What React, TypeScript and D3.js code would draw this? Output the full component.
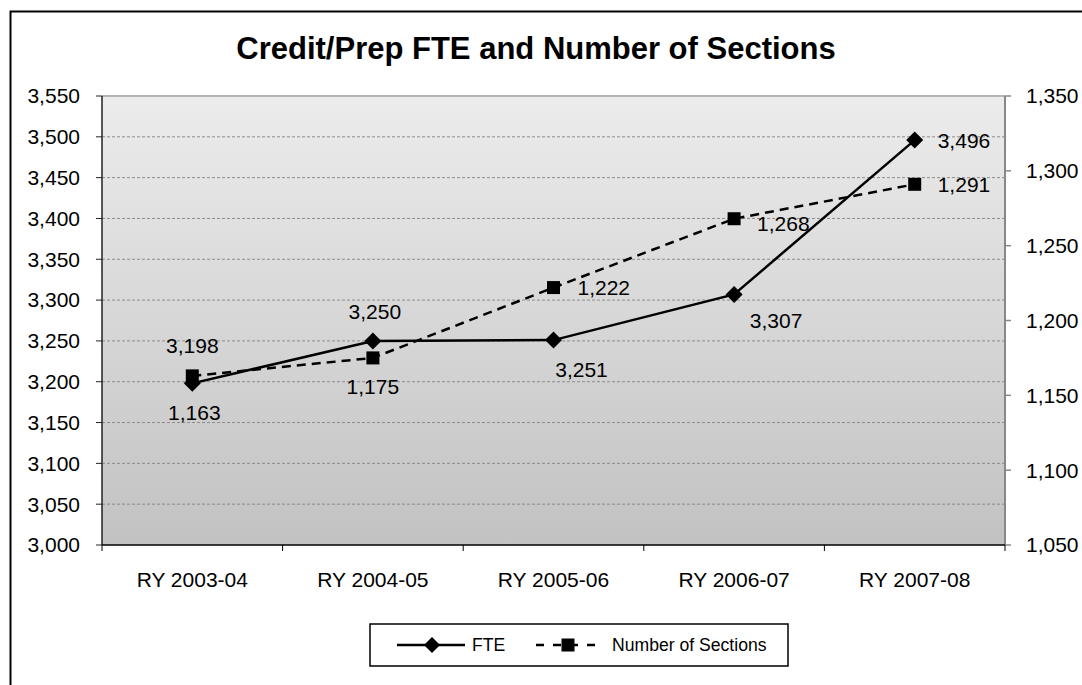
import React from "react";
import * as d3 from "d3";

const categories = ["RY 2003-04", "RY 2004-05", "RY 2005-06", "RY 2006-07", "RY 2007-08"];
const fteValues = [3198, 3250, 3251, 3307, 3496];
const sectionValues = [1163, 1175, 1222, 1268, 1291];
const leftTicks = [3000, 3050, 3100, 3150, 3200, 3250, 3300, 3350, 3400, 3450, 3500, 3550];
const rightTicks = [1050, 1100, 1150, 1200, 1250, 1300, 1350];
const title = "Credit/Prep FTE and Number of Sections";
const seriesNames = ["FTE", "Number of Sections"];

// label placements (style only)
const fteLabelPos = [
  { dx: 0, dy: -30, anchor: "middle" },
  { dx: 2, dy: -22, anchor: "middle" },
  { dx: 28, dy: 37, anchor: "middle" },
  { dx: 42, dy: 34, anchor: "middle" },
  { dx: 23, dy: 8, anchor: "start" },
];
const secLabelPos = [
  { dx: 2, dy: 44, anchor: "middle" },
  { dx: 0, dy: 36, anchor: "middle" },
  { dx: 24, dy: 7, anchor: "start" },
  { dx: 23, dy: 12, anchor: "start" },
  { dx: 23, dy: 8, anchor: "start" },
];

const W = 1082;
const H = 685;
const plotL = 102;
const plotR = 1005;
const plotT = 96;
const plotB = 545;
const font = "'Liberation Sans', Arial, sans-serif";
const fmt = d3.format(",");
const fs = 21;

export default function App() {
  const x = d3.scaleBand<string>().domain(categories).range([plotL, plotR]).padding(0);
  const cx = (c: string) => (x(c) as number) + x.bandwidth() / 2;
  const yL = d3.scaleLinear().domain([3000, 3550]).range([plotB, plotT]);
  const yR = d3.scaleLinear().domain([1050, 1350]).range([plotB, plotT]);

  const fteLine = d3
    .line<number>()
    .x((_, i) => cx(categories[i]))
    .y((d) => yL(d));
  const secLine = d3
    .line<number>()
    .x((_, i) => cx(categories[i]))
    .y((d) => yR(d));

  const diamond = (px: number, py: number, r: number) =>
    `M${px},${py - r}L${px + r},${py}L${px},${py + r}L${px - r},${py}Z`;

  const catTicks = [...categories.map((c) => x(c) as number), plotR];

  return (
    <svg
      width={W}
      height={H}
      style={{ position: "absolute", left: 0, top: 0, background: "#fff" }}
      fontFamily={font}
    >
      <defs>
        <linearGradient id="bg" x1="0" y1="0" x2="0" y2="1">
          <stop offset="0" stopColor="#ececec" />
          <stop offset="1" stopColor="#c2c2c2" />
        </linearGradient>
      </defs>
      <rect x={10.5} y={11.5} width={1100} height={700} fill="#fff" stroke="#000" strokeWidth={2} />
      <text x={536} y={59} textAnchor="middle" fontSize={31} fontWeight="bold" fill="#000">
        {title}
      </text>

      {/* plot area */}
      <rect x={plotL} y={plotT} width={plotR - plotL} height={plotB - plotT} fill="url(#bg)" />
      <line x1={plotL} x2={plotR} y1={plotT} y2={plotT} stroke="#b4b4b4" strokeWidth={2} />
      {leftTicks.slice(1, -1).map((t) => (
        <line
          key={t}
          x1={plotL}
          x2={plotR}
          y1={yL(t)}
          y2={yL(t)}
          stroke="#8c8c8c"
          strokeWidth={1}
          strokeDasharray="3,2"
        />
      ))}

      {/* left axis */}
      <line x1={plotL} x2={plotL} y1={plotT} y2={plotB} stroke="#222" strokeWidth={1.5} />
      {leftTicks.map((t) => (
        <g key={t}>
          <line x1={plotL - 6} x2={plotL} y1={yL(t)} y2={yL(t)} stroke="#222" strokeWidth={1} />
          <text x={80} y={yL(t)} dy="0.35em" textAnchor="end" fontSize={fs} fill="#000">
            {fmt(t)}
          </text>
        </g>
      ))}

      {/* right axis */}
      <line x1={plotR} x2={plotR} y1={plotT} y2={plotB} stroke="#888" strokeWidth={2} />
      {rightTicks.map((t) => (
        <g key={t}>
          <line x1={plotR} x2={plotR + 6} y1={yR(t)} y2={yR(t)} stroke="#888" strokeWidth={1.5} />
          <text x={1026} y={yR(t)} dy="0.35em" textAnchor="start" fontSize={fs} fill="#000">
            {fmt(t)}
          </text>
        </g>
      ))}

      {/* bottom axis */}
      <line x1={plotL} x2={plotR} y1={plotB} y2={plotB} stroke="#000" strokeWidth={1.5} />
      {catTicks.map((t, i) => (
        <line key={i} x1={t} x2={t} y1={plotB} y2={plotB + 6} stroke="#000" strokeWidth={1} />
      ))}
      {categories.map((c) => (
        <text key={c} x={cx(c)} y={587} textAnchor="middle" fontSize={fs} fill="#000">
          {c}
        </text>
      ))}

      {/* series */}
      <path d={secLine(sectionValues) || ""} fill="none" stroke="#000" strokeWidth={2.5} strokeDasharray="9,6" />
      <path d={fteLine(fteValues) || ""} fill="none" stroke="#000" strokeWidth={2.5} />
      {sectionValues.map((v, i) => (
        <rect key={"s" + i} x={cx(categories[i]) - 6.5} y={yR(v) - 6.5} width={13} height={13} fill="#000" />
      ))}
      {fteValues.map((v, i) => (
        <path key={"f" + i} d={diamond(cx(categories[i]), yL(v), 8.5)} fill="#000" />
      ))}

      {/* labels */}
      {fteValues.map((v, i) => (
        <text
          key={"fl" + i}
          x={cx(categories[i]) + fteLabelPos[i].dx}
          y={yL(v) + fteLabelPos[i].dy}
          textAnchor={fteLabelPos[i].anchor as any}
          fontSize={fs}
          fill="#000"
        >
          {fmt(v)}
        </text>
      ))}
      {sectionValues.map((v, i) => (
        <text
          key={"sl" + i}
          x={cx(categories[i]) + secLabelPos[i].dx}
          y={yR(v) + secLabelPos[i].dy}
          textAnchor={secLabelPos[i].anchor as any}
          fontSize={fs}
          fill="#000"
        >
          {fmt(v)}
        </text>
      ))}

      {/* legend */}
      <rect x={370} y={624} width={418} height={42} fill="#fff" stroke="#000" strokeWidth={1.5} />
      <line x1={397} x2={465} y1={645} y2={645} stroke="#000" strokeWidth={2.5} />
      <path d={diamond(432, 645, 8)} fill="#000" />
      <text x={472} y={645} dy="0.35em" fontSize={17.6} fill="#000">
        {seriesNames[0]}
      </text>
      <line x1={536} x2={601} y1={645} y2={645} stroke="#000" strokeWidth={2.5} strokeDasharray="8,9" />
      <rect x={561.5} y={638.5} width={13} height={13} fill="#000" />
      <text x={612} y={645} dy="0.35em" fontSize={17.6} fill="#000">
        {seriesNames[1]}
      </text>
    </svg>
  );
}
